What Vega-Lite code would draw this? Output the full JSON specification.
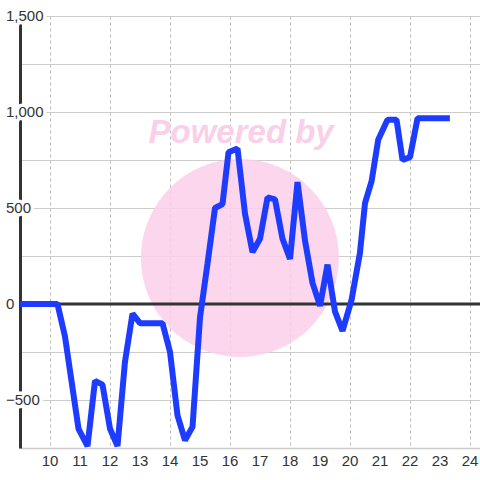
{
  "$schema": "https://vega.github.io/schema/vega-lite/v6.json",
  "width": 460,
  "height": 432,
  "autosize": {"type": "none"},
  "padding": {"left": 20, "top": 16, "right": 0, "bottom": 32},
  "background": "white",
  "config": {"view": {"stroke": null}, "font": "Liberation Sans"},
  "datasets": {
    "series": [
      {"t": 9, "v": 0}, {"t": 10.25, "v": 0}, {"t": 10.5, "v": -170}, {"t": 10.95, "v": -650},
      {"t": 11.25, "v": -740}, {"t": 11.5, "v": -400}, {"t": 11.75, "v": -420}, {"t": 12.0, "v": -650},
      {"t": 12.25, "v": -740}, {"t": 12.5, "v": -300}, {"t": 12.75, "v": -50}, {"t": 13.0, "v": -100},
      {"t": 13.75, "v": -100}, {"t": 14.0, "v": -250}, {"t": 14.25, "v": -580}, {"t": 14.5, "v": -710},
      {"t": 14.75, "v": -640}, {"t": 15.0, "v": -70}, {"t": 15.25, "v": 210}, {"t": 15.5, "v": 500},
      {"t": 15.75, "v": 520}, {"t": 15.95, "v": 790}, {"t": 16.25, "v": 810}, {"t": 16.5, "v": 470},
      {"t": 16.75, "v": 270}, {"t": 17.0, "v": 340}, {"t": 17.25, "v": 555}, {"t": 17.5, "v": 545},
      {"t": 17.75, "v": 340}, {"t": 18.0, "v": 235}, {"t": 18.25, "v": 635}, {"t": 18.5, "v": 330},
      {"t": 18.75, "v": 110}, {"t": 19.0, "v": -10}, {"t": 19.25, "v": 205}, {"t": 19.5, "v": -40},
      {"t": 19.75, "v": -140}, {"t": 20.05, "v": 20}, {"t": 20.33, "v": 265}, {"t": 20.5, "v": 525},
      {"t": 20.72, "v": 640}, {"t": 20.94, "v": 855}, {"t": 21.25, "v": 960}, {"t": 21.55, "v": 960},
      {"t": 21.75, "v": 750}, {"t": 22.0, "v": 765}, {"t": 22.25, "v": 967}, {"t": 23.33, "v": 967}
    ],
    "ylabels": [{"v": -500}, {"v": 0}, {"v": 500}, {"v": 1000}, {"v": 1500}],
    "xlabels": [{"t": 10}, {"t": 11}, {"t": 12}, {"t": 13}, {"t": 14}, {"t": 15}, {"t": 16}, {"t": 17}, {"t": 18}, {"t": 19}, {"t": 20}, {"t": 21}, {"t": 22}, {"t": 23}, {"t": 24}],
    "one": [{}]
  },
  "layer": [
    {
      "data": {"name": "one"},
      "mark": {"type": "point", "shape": "circle", "filled": true, "size": 39200, "color": "#facfe9", "opacity": 0.85, "strokeWidth": 0},
      "encoding": {
        "x": {"datum": 16.33, "type": "quantitative"},
        "y": {"datum": 240, "type": "quantitative"}
      }
    },
    {
      "data": {"name": "one"},
      "mark": {"type": "text", "text": "Powered by", "font": "Liberation Sans", "fontSize": 33, "fontWeight": "bold", "fontStyle": "italic", "color": "#fad0e8", "align": "center", "baseline": "alphabetic"},
      "encoding": {
        "x": {"datum": 16.37, "type": "quantitative"},
        "y": {"datum": 838, "type": "quantitative"}
      }
    },
    {
      "data": {"name": "one"},
      "mark": {"type": "rule", "color": "#333333", "strokeWidth": 3},
      "encoding": {"y": {"datum": 0, "type": "quantitative"}}
    },
    {
      "data": {"name": "series"},
      "mark": {"type": "line", "color": "#1e3cff", "strokeWidth": 6, "strokeJoin": "bevel", "clip": true},
      "encoding": {
        "x": {
          "field": "t", "type": "quantitative",
          "scale": {"domain": [9, 24.333], "nice": false, "zero": false},
          "axis": {
            "values": [10, 11, 12, 13, 14, 15, 16, 17, 18, 19, 20, 21, 22, 23, 24],
            "title": null, "grid": true, "gridDash": [3, 3], "gridColor": "#bbbbbb", "gridWidth": 1,
            "ticks": false, "domain": true, "domainColor": "#cccccc", "domainWidth": 1.5,
            "labels": false
          }
        },
        "y": {
          "field": "v", "type": "quantitative",
          "scale": {"domain": [-750, 1500], "nice": false, "zero": false},
          "axis": {
            "values": [-750, -500, -250, 0, 250, 500, 750, 1000, 1250, 1500],
            "title": null, "grid": true, "gridColor": "#cccccc", "gridWidth": 1,
            "labels": false, "ticks": false, "domain": true, "domainColor": "#333333", "domainWidth": 3
          }
        }
      }
    },
    {
      "data": {"name": "xlabels"},
      "mark": {"type": "text", "align": "center", "baseline": "top", "dy": 6, "fontSize": 15, "font": "Liberation Sans", "color": "#333333"},
      "encoding": {
        "x": {"field": "t", "type": "quantitative"},
        "y": {"datum": -750, "type": "quantitative"},
        "text": {"field": "t", "type": "quantitative", "format": "d"}
      }
    },
    {
      "data": {"name": "ylabels"},
      "mark": {"type": "text", "align": "left", "baseline": "middle", "dx": -14, "fontSize": 15, "font": "Liberation Sans", "color": "white", "stroke": "white", "strokeWidth": 7},
      "encoding": {
        "x": {"datum": 9, "type": "quantitative"},
        "y": {"field": "v", "type": "quantitative"},
        "text": {"field": "v", "type": "quantitative", "format": ","}
      }
    },
    {
      "data": {"name": "ylabels"},
      "mark": {"type": "text", "align": "left", "baseline": "middle", "dx": -14, "fontSize": 15, "font": "Liberation Sans", "color": "#333333"},
      "encoding": {
        "x": {"datum": 9, "type": "quantitative"},
        "y": {"field": "v", "type": "quantitative"},
        "text": {"field": "v", "type": "quantitative", "format": ","}
      }
    }
  ]
}
